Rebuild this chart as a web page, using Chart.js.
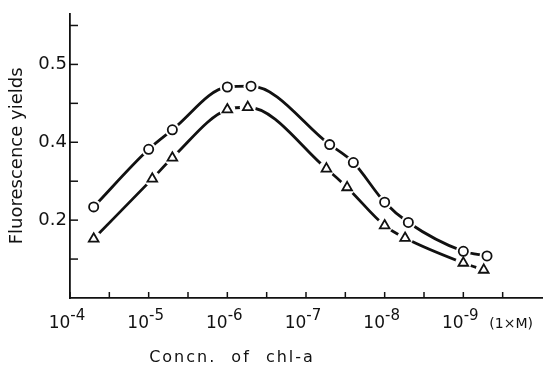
<!DOCTYPE html>
<html>
<head>
<meta charset="utf-8">
<script src="https://cdn.jsdelivr.net/npm/chart.js@4"></script>
<style>
  html, body { margin: 0; padding: 0; background: #fff; }
  #wrap { width: 550px; height: 366px; }
</style>
</head>
<body>
<div id="wrap"><canvas id="chart"></canvas></div>
<script>
// dane
const concCircle = [5e-5, 1e-5, 5e-6, 1e-6, 5e-7, 5e-8, 2.5e-8, 1e-8, 5e-9, 1e-9, 5e-10];
const yieldCircle = [0.317, 0.391, 0.416, 0.471, 0.472, 0.397, 0.374, 0.323, 0.297, 0.260, 0.254];
const concTriangle = [5e-5, 9e-6, 5e-6, 1e-6, 5.5e-7, 5.5e-8, 3e-8, 1e-8, 5.5e-9, 1e-9, 5.5e-10];
const yieldTriangle = [0.276, 0.353, 0.380, 0.442, 0.445, 0.366, 0.342, 0.293, 0.277, 0.245, 0.236];

const xDecades = [-4, -5, -6, -7, -8, -9];
const xTickExps = [-4, -4.5, -5, -5.5, -6, -6.5, -7, -7.5, -8, -8.5, -9, -9.5];
const yTicks = [0.25, 0.3, 0.35, 0.4, 0.45, 0.5, 0.55];
const yLabels = { "0.3": "0.2", "0.4": "0.4", "0.5": "0.5" };

const FONT = "'DejaVu Sans', 'Liberation Sans', sans-serif";
const INK = "#111";

function toPoints(xs, ys) {
  return xs.map((x, i) => ({ x: x, y: ys[i] }));
}

function lineSet(xs, ys) {
  return {
    data: toPoints(xs, ys),
    borderColor: INK,
    borderWidth: 2.8,
    cubicInterpolationMode: "monotone",
    pointRadius: 0,
    order: 3,
  };
}

function haloSet(xs, ys, r) {
  return {
    data: toPoints(xs, ys),
    showLine: false,
    pointRadius: r,
    pointBorderWidth: 0,
    pointBackgroundColor: "#fff",
    pointBorderColor: "#fff",
    order: 2,
  };
}

function markerSet(xs, ys, style, r) {
  return {
    data: toPoints(xs, ys),
    showLine: false,
    pointStyle: style,
    pointRadius: r,
    pointBorderWidth: 1.8,
    pointBackgroundColor: "#fff",
    pointBorderColor: INK,
    order: 1,
  };
}

// wewnetrzne kreski podzialki + opisy osi X
const axisExtras = {
  id: "axisExtras",
  afterDraw(chart) {
    const ctx = chart.ctx;
    const xs = chart.scales.x;
    const ys = chart.scales.y;
    const area = chart.chartArea;
    ctx.save();
    ctx.strokeStyle = INK;
    ctx.lineWidth = 1.5;
    xTickExps.forEach((e) => {
      const px = xs.getPixelForValue(Math.pow(10, e));
      ctx.beginPath();
      ctx.moveTo(px, area.bottom);
      ctx.lineTo(px, area.bottom - 6);
      ctx.stroke();
    });
    yTicks.forEach((v) => {
      const py = ys.getPixelForValue(v);
      ctx.beginPath();
      ctx.moveTo(area.left, py);
      ctx.lineTo(area.left + 8, py);
      ctx.stroke();
    });

    ctx.fillStyle = INK;
    ctx.textBaseline = "alphabetic";
    ctx.textAlign = "left";
    const baseFont = "17px " + FONT;
    const expFont = "15px " + FONT;
    xDecades.forEach((e) => {
      const px = xs.getPixelForValue(Math.pow(10, e));
      const expText = "-" + String(-e);
      ctx.font = baseFont;
      const wb = ctx.measureText("10").width;
      ctx.font = expFont;
      const we = ctx.measureText(expText).width;
      const x0 = px - 3 - (wb + we) / 2;
      ctx.font = baseFont;
      ctx.fillText("10", x0, 328);
      ctx.font = expFont;
      ctx.fillText(expText, x0 + wb, 320);
    });
    const p9 = xs.getPixelForValue(1e-9);
    ctx.font = "14px " + FONT;
    ctx.fillText("(1\u00D7M)", p9 + 26, 328);

    ctx.textAlign = "center";
    ctx.font = "16px " + FONT;
    ctx.letterSpacing = "2px";
    ctx.wordSpacing = "8px";
    ctx.fillText("Concn. of chl-a", 232, 362);
    ctx.restore();
  },
};

const ctx = document.getElementById("chart").getContext("2d");
new Chart(ctx, {
  type: "line",
  data: {
    datasets: [
      lineSet(concCircle, yieldCircle),
      lineSet(concTriangle, yieldTriangle),
      haloSet(concCircle, yieldCircle, 7.5),
      haloSet(concTriangle, yieldTriangle, 8),
      markerSet(concCircle, yieldCircle, "circle", 4.6),
      markerSet(concTriangle, yieldTriangle, "triangle", 5.6),
    ],
  },
  options: {
    responsive: true,
    maintainAspectRatio: false,
    animation: false,
    layout: { padding: { top: 10, right: 0, left: 0, bottom: 0 } },
    plugins: {
      legend: { display: false },
      tooltip: { enabled: false },
    },
    scales: {
      x: {
        type: "logarithmic",
        reverse: true,
        min: 1e-10,
        max: 1e-4,
        afterFit(scale) {
          scale.height = 68;
        },
        grid: { display: false, drawTicks: false },
        border: { display: true, color: INK, width: 1.8 },
        ticks: { display: false },
      },
      y: {
        type: "linear",
        min: 0.2,
        max: 0.565,
        afterBuildTicks(scale) {
          scale.ticks = [0.3, 0.4, 0.5].map((v) => ({ value: v }));
        },
        afterFit(scale) {
          scale.width = 70;
        },
        grid: { display: false, drawTicks: false },
        border: { display: true, color: INK, width: 1.8 },
        ticks: {
          padding: 3,
          color: INK,
          font: { family: FONT, size: 18 },
          callback(value) {
            return yLabels[value.toFixed(1)] || "";
          },
        },
        title: {
          display: true,
          text: "Fluorescence yields",
          color: INK,
          font: { family: FONT, size: 18 },
          padding: { top: 7, bottom: 0 },
        },
      },
    },
  },
  plugins: [axisExtras],
});
</script>
</body>
</html>
